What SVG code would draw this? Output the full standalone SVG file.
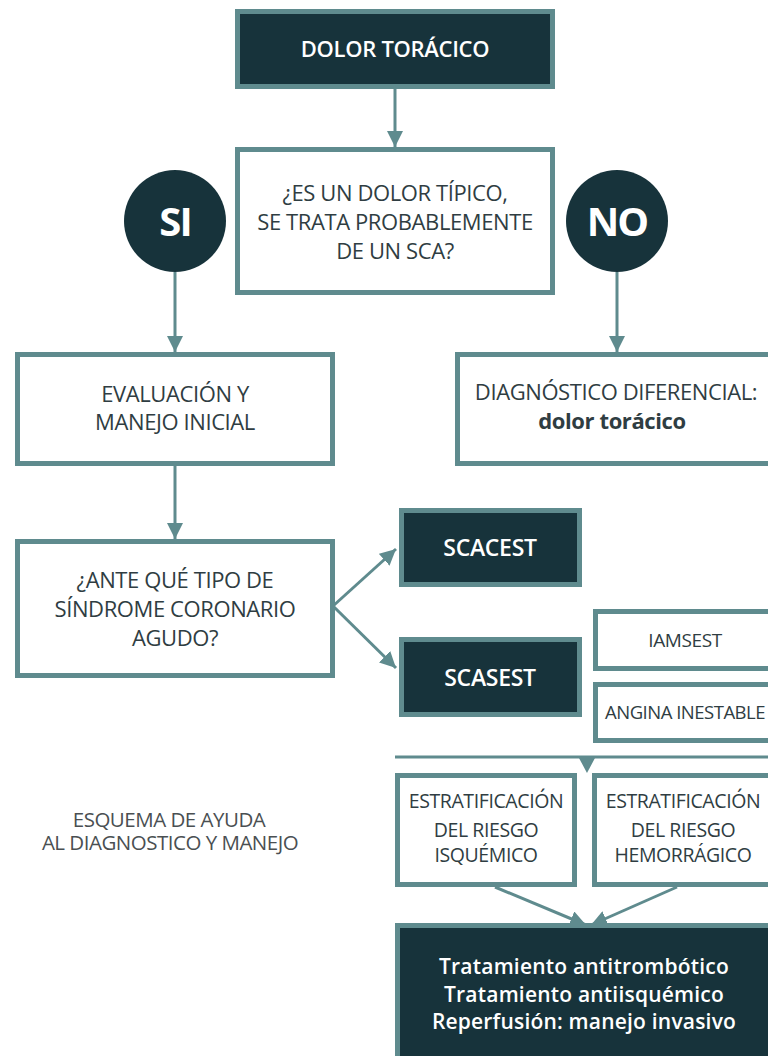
<svg xmlns="http://www.w3.org/2000/svg" width="768" height="1056" viewBox="0 0 768 1056">
<defs>
<style>
.dark{fill:#17333b;stroke:#5f8b8e;stroke-width:5}
.light{fill:#ffffff;stroke:#5f8b8e;stroke-width:5}
.t{font-family:"Open Sans","Liberation Sans",sans-serif;font-size:22px;fill:#2f3d42;text-anchor:middle;letter-spacing:-0.4px}
.w{font-family:"Open Sans","Liberation Sans",sans-serif;font-weight:600;font-size:22px;fill:#ffffff;text-anchor:middle;letter-spacing:-0.3px}
.s{font-size:19.5px}
.b{font-size:21px;letter-spacing:0.2px}
.big{font-size:23px}
.c{fill:#17333b}
.ct{font-family:"Open Sans","Liberation Sans",sans-serif;font-weight:700;font-size:40px;fill:#ffffff;text-anchor:middle;letter-spacing:-2px}
.ln{stroke:#5f8b8e;stroke-width:3;fill:none}
.cap{font-family:"Open Sans","Liberation Sans",sans-serif;font-size:20.5px;fill:#4a4f52;text-anchor:middle;letter-spacing:-0.5px}
</style>
<marker id="ah" markerUnits="userSpaceOnUse" markerWidth="18" markerHeight="16" viewBox="0 0 18 16" refX="16" refY="8" orient="auto">
<path d="M0,0 L16,8 L0,16 Z" fill="#5f8b8e"/>
</marker>
</defs>
<rect width="768" height="1056" fill="#ffffff"/>

<g id="connectors">
<line class="ln" x1="395" y1="89" x2="395" y2="147" marker-end="url(#ah)"/>
<line class="ln" x1="175" y1="272" x2="175" y2="352" marker-end="url(#ah)"/>
<line class="ln" x1="617" y1="272" x2="617" y2="352" marker-end="url(#ah)"/>
<line class="ln" x1="175" y1="466" x2="175" y2="539" marker-end="url(#ah)"/>
<line class="ln" x1="333" y1="606" x2="396" y2="549" marker-end="url(#ah)"/>
<line class="ln" x1="333" y1="606" x2="396" y2="668" marker-end="url(#ah)"/>
<line class="ln" x1="395" y1="757" x2="768" y2="757"/>
<path d="M579,758 L595,758 L587,773 Z" fill="#5f8b8e"/>
<line class="ln" x1="495" y1="887" x2="586" y2="925" marker-end="url(#ah)"/>
<line class="ln" x1="677" y1="887" x2="591" y2="925" marker-end="url(#ah)"/>
</g>

<g id="dolor-toracico">
<rect class="dark" x="237.5" y="11.5" width="315" height="75"/>
<text class="w" x="395" y="57">DOLOR TORÁCICO</text>
</g>

<g id="pregunta-tipico">
<rect class="light" x="237.5" y="149.5" width="315" height="143"/>
<text class="t" x="395" y="201">¿ES UN DOLOR TÍPICO,</text>
<text class="t" x="395" y="230">SE TRATA PROBABLEMENTE</text>
<text class="t" x="395" y="259">DE UN SCA?</text>
</g>

<g id="si">
<circle class="c" cx="175" cy="221" r="51"/>
<text class="ct" x="175" y="236">SI</text>
</g>

<g id="no">
<circle class="c" cx="617" cy="221" r="51"/>
<text class="ct" x="617" y="236">NO</text>
</g>

<g id="evaluacion">
<rect class="light" x="17.5" y="354.5" width="315" height="109"/>
<text class="t" x="175" y="402">EVALUACIÓN Y</text>
<text class="t" x="175" y="430">MANEJO INICIAL</text>
</g>

<g id="diagnostico-diferencial">
<rect class="light" x="457.5" y="354.5" width="320" height="109"/>
<text class="t" x="616" y="400">DIAGNÓSTICO DIFERENCIAL:</text>
<text class="t" x="612" y="429" style="font-weight:700">dolor torácico</text>
</g>

<g id="tipo-sca">
<rect class="light" x="17.5" y="541.5" width="315" height="134"/>
<text class="t" x="175" y="588">¿ANTE QUÉ TIPO DE</text>
<text class="t" x="175" y="617">SÍNDROME CORONARIO</text>
<text class="t" x="175" y="646">AGUDO?</text>
</g>

<g id="scacest">
<rect class="dark" x="401.5" y="510.5" width="178" height="74"/>
<text class="w big" x="490" y="556">SCACEST</text>
</g>

<g id="scasest">
<rect class="dark" x="401.5" y="639.5" width="178" height="75"/>
<text class="w big" x="490" y="686">SCASEST</text>
</g>

<g id="iamsest">
<rect class="light" x="595.5" y="611.5" width="190" height="57"/>
<text class="t" x="685" y="647" style="font-size:19px">IAMSEST</text>
</g>

<g id="angina-inestable">
<rect class="light" x="595.5" y="684.5" width="190" height="56"/>
<text class="t" x="685" y="719" style="font-size:18.5px;letter-spacing:-0.5px">ANGINA INESTABLE</text>
</g>

<g id="riesgo-isquemico">
<rect class="light" x="397.5" y="775.5" width="177" height="109"/>
<text class="t s" x="486" y="808">ESTRATIFICACIÓN</text>
<text class="t s" x="486" y="837">DEL RIESGO</text>
<text class="t s" x="486" y="862">ISQUÉMICO</text>
</g>

<g id="riesgo-hemorragico">
<rect class="light" x="594.5" y="775.5" width="190" height="109"/>
<text class="t s" x="683" y="808">ESTRATIFICACIÓN</text>
<text class="t s" x="683" y="837">DEL RIESGO</text>
<text class="t s" x="683" y="862">HEMORRÁGICO</text>
</g>

<g id="tratamiento">
<rect class="dark" x="397.5" y="925.5" width="380" height="140"/>
<text class="w b" x="584" y="974">Tratamiento antitrombótico</text>
<text class="w b" x="584" y="1002">Tratamiento antiisquémico</text>
<text class="w b" x="584" y="1029">Reperfusión: manejo invasivo</text>
</g>

<g id="caption">
<text class="cap" x="169" y="827">ESQUEMA DE AYUDA</text>
<text class="cap" x="170" y="850">AL DIAGNOSTICO Y MANEJO</text>
</g>
</svg>
